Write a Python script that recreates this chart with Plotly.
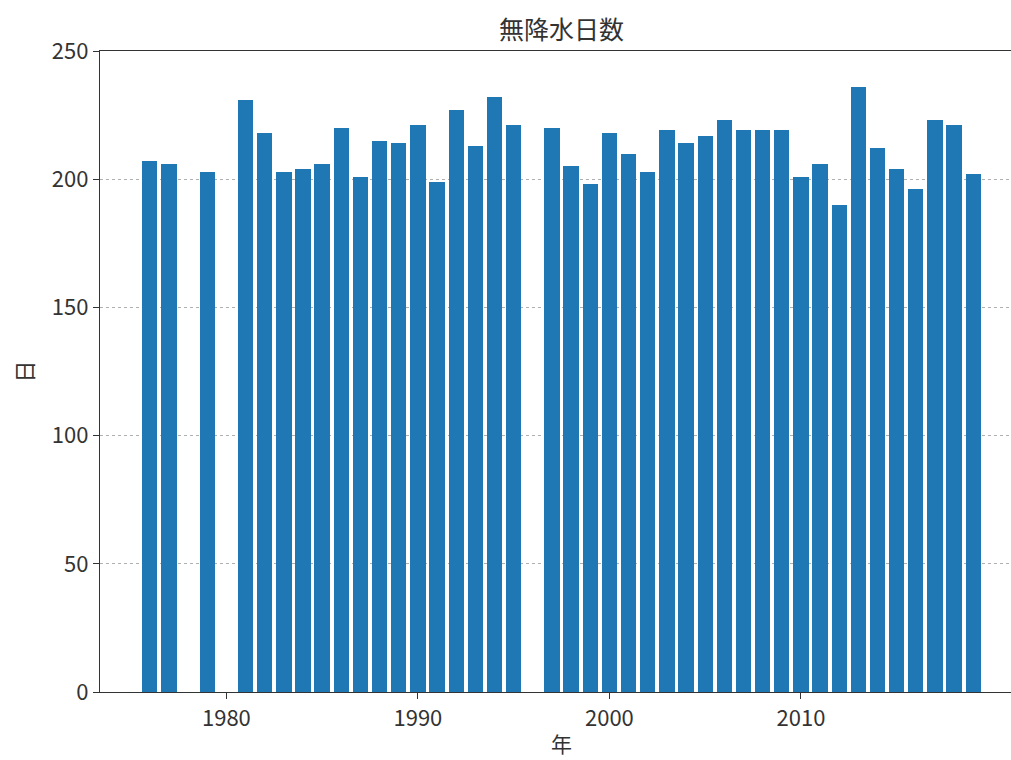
import plotly.graph_objects as go

years = [1976, 1977, 1979, 1981, 1982, 1983, 1984, 1985, 1986, 1987, 1988, 1989,
         1990, 1991, 1992, 1993, 1994, 1995, 1997, 1998, 1999, 2000, 2001, 2002,
         2003, 2004, 2005, 2006, 2007, 2008, 2009, 2010, 2011, 2012, 2013, 2014,
         2015, 2016, 2017, 2018, 2019]
days = [207, 206, 203, 231, 218, 203, 204, 206, 220, 201, 215, 214,
        221, 199, 227, 213, 232, 221, 220, 205, 198, 218, 210, 203,
        219, 214, 217, 223, 219, 219, 219, 201, 206, 190, 236, 212,
        204, 196, 223, 221, 202]
y_ticks = [0, 50, 100, 150, 200, 250]
x_ticks = [1980, 1990, 2000, 2010]

title_text = "無降水日数"
xlabel = "年"
ylabel = "日"

font_family = "Noto Sans CJK JP, DejaVu Sans, sans-serif"

fig = go.Figure()
fig.add_trace(go.Bar(x=years, y=days, width=0.8,
                     marker=dict(color="#1f77b4", line=dict(width=0))))

fig.update_layout(
    width=1011, height=760,
    margin=dict(l=100, r=0, t=51, b=68),
    plot_bgcolor="white", paper_bgcolor="white",
    font=dict(family=font_family, size=22, color="#333333"),
    showlegend=False,
    bargap=0,
)
fig.update_xaxes(range=[1973.4, 2020.97], tickvals=x_ticks, ticks="outside",
                 ticklen=6, tickcolor="#333333", showgrid=False, zeroline=False,
                 showline=True, linecolor="#333333", linewidth=1.3, mirror=True)
fig.update_yaxes(range=[0, 250], tickvals=y_ticks, ticks="outside", ticklen=6,
                 tickcolor="#333333", showgrid=True, gridcolor="#b0b0b0",
                 griddash="dot", gridwidth=1, zeroline=False, showline=True,
                 linecolor="#333333", linewidth=1.3)

fig.add_annotation(text=title_text, xref="paper", yref="paper", x=0.507, y=1,
                   yshift=23.5, showarrow=False, font=dict(size=25),
                   xanchor="center", yanchor="middle")
fig.add_annotation(text=xlabel, xref="paper", yref="paper", x=0.507, y=0,
                   yshift=-51, showarrow=False, font=dict(size=21),
                   xanchor="center", yanchor="middle")
fig.add_annotation(text=ylabel, xref="paper", yref="paper", x=0, y=0.5,
                   xshift=-78, showarrow=False, font=dict(size=22), textangle=-90,
                   xanchor="center", yanchor="middle")

fig.write_html("out.html", config={"displayModeBar": False},
               post_script="document.body.style.margin='0';document.body.style.overflow='hidden';")
